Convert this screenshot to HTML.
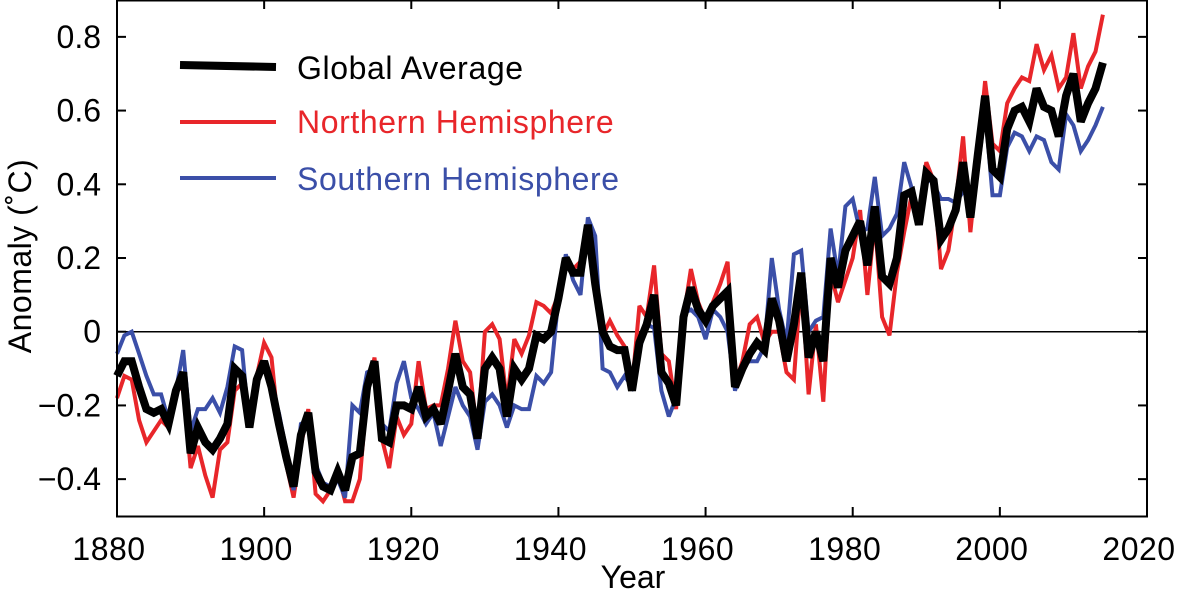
<!DOCTYPE html>
<html><head><meta charset="utf-8"><style>
body{margin:0;background:#fff}
svg text{font-family:"Liberation Sans",Arial,sans-serif}
</style></head><body>
<svg id="chart" width="1184" height="603" xmlns="http://www.w3.org/2000/svg"></svg>
<script>
const startYear = 1880;
const globalAvg = [-0.12,-0.08,-0.08,-0.15,-0.21,-0.22,-0.21,-0.25,-0.16,-0.11,-0.33,-0.26,-0.30,-0.32,-0.29,-0.25,-0.10,-0.12,-0.26,-0.13,-0.08,-0.15,-0.25,-0.34,-0.42,-0.28,-0.22,-0.38,-0.42,-0.43,-0.38,-0.43,-0.34,-0.33,-0.15,-0.08,-0.29,-0.30,-0.20,-0.20,-0.21,-0.15,-0.23,-0.21,-0.25,-0.16,-0.06,-0.15,-0.17,-0.29,-0.10,-0.07,-0.10,-0.23,-0.10,-0.13,-0.10,-0.01,-0.02,0.00,0.09,0.20,0.16,0.16,0.29,0.13,0.00,-0.04,-0.05,-0.05,-0.16,-0.03,0.02,0.10,-0.11,-0.14,-0.20,0.04,0.12,0.06,0.03,0.07,0.09,0.11,-0.15,-0.10,-0.06,-0.03,-0.05,0.09,0.03,-0.08,0.02,0.16,-0.07,0.00,-0.08,0.20,0.12,0.22,0.26,0.30,0.18,0.34,0.15,0.13,0.20,0.37,0.38,0.29,0.43,0.41,0.25,0.28,0.33,0.46,0.31,0.48,0.64,0.44,0.42,0.55,0.60,0.61,0.57,0.66,0.61,0.60,0.53,0.64,0.70,0.57,0.62,0.66,0.73];
const northHem = [-0.18,-0.12,-0.13,-0.24,-0.30,-0.27,-0.24,-0.26,-0.16,-0.15,-0.37,-0.31,-0.39,-0.45,-0.32,-0.30,-0.16,-0.14,-0.26,-0.12,-0.03,-0.07,-0.27,-0.36,-0.45,-0.31,-0.21,-0.44,-0.46,-0.43,-0.38,-0.46,-0.46,-0.40,-0.17,-0.07,-0.29,-0.37,-0.23,-0.28,-0.25,-0.08,-0.21,-0.20,-0.20,-0.10,0.03,-0.08,-0.11,-0.28,0.00,0.02,-0.02,-0.19,-0.02,-0.06,-0.01,0.08,0.07,0.05,0.10,0.18,0.17,0.19,0.28,0.10,-0.01,0.03,-0.01,-0.04,-0.15,0.07,0.04,0.18,-0.06,-0.08,-0.21,0.04,0.17,0.08,0.03,0.08,0.13,0.19,-0.14,-0.08,0.02,0.04,-0.03,0.00,0.00,-0.11,-0.13,0.15,-0.17,0.02,-0.19,0.16,0.08,0.14,0.20,0.33,0.10,0.30,0.04,-0.01,0.16,0.27,0.37,0.32,0.46,0.41,0.17,0.22,0.35,0.53,0.27,0.47,0.68,0.51,0.49,0.62,0.66,0.69,0.68,0.78,0.71,0.75,0.66,0.69,0.81,0.66,0.72,0.76,0.86];
const southHem = [-0.06,-0.01,0.00,-0.06,-0.12,-0.17,-0.17,-0.24,-0.16,-0.05,-0.27,-0.21,-0.21,-0.18,-0.22,-0.15,-0.04,-0.05,-0.26,-0.12,-0.10,-0.15,-0.22,-0.32,-0.43,-0.25,-0.24,-0.36,-0.41,-0.42,-0.40,-0.45,-0.20,-0.22,-0.11,-0.10,-0.25,-0.27,-0.14,-0.08,-0.18,-0.21,-0.25,-0.22,-0.31,-0.23,-0.15,-0.20,-0.23,-0.32,-0.19,-0.17,-0.20,-0.26,-0.20,-0.21,-0.21,-0.12,-0.14,-0.11,0.09,0.21,0.14,0.10,0.31,0.26,-0.10,-0.11,-0.15,-0.12,-0.15,-0.05,0.02,0.01,-0.16,-0.23,-0.18,0.05,0.06,0.04,-0.02,0.06,0.04,0.00,-0.16,-0.09,-0.08,-0.08,-0.04,0.20,0.06,-0.03,0.21,0.22,0.00,0.03,0.04,0.28,0.15,0.34,0.36,0.27,0.28,0.42,0.26,0.28,0.32,0.46,0.39,0.30,0.42,0.40,0.36,0.36,0.35,0.38,0.36,0.44,0.60,0.37,0.37,0.50,0.54,0.53,0.49,0.53,0.52,0.46,0.44,0.59,0.56,0.49,0.52,0.56,0.61];
const xTicks = [1880,1900,1920,1940,1960,1980,2000,2020];
const yTicks = [-0.4,-0.2,0,0.2,0.4,0.6,0.8];
const yTickLabels = ["\u22120.4","\u22120.2","0","0.2","0.4","0.6","0.8"];

const L=117,R=1147,T=0,B=516;
const x = yr => L + (yr-1880)/(2020-1880)*(R-L);
const y = v => B - (v-(-0.5))/(0.9-(-0.5))*(B-T);
const svg = document.getElementById('chart');
const NS='http://www.w3.org/2000/svg';
function mk(tag, attrs, parent){const e=document.createElementNS(NS,tag);for(const k in attrs)e.setAttribute(k,attrs[k]);(parent||svg).appendChild(e);return e;}

const z = mk('line',{x1:L,x2:R,y1:y(0),y2:y(0),stroke:'#000','stroke-width':1.5});



function series(arr,color,w,name){
  const pts=arr.map((v,i)=>x(startYear+i).toFixed(1)+','+y(v).toFixed(1)).join(' ');
  const p=mk('polyline',{points:pts,fill:'none',stroke:color,'stroke-width':w,'stroke-linejoin':'miter','stroke-miterlimit':3});
  
  
}
series(northHem,'#e8262a',4,'northern-hemisphere-line');
series(southHem,'#3b4fa8',4,'southern-hemisphere-line');
series(globalAvg,'#000',8,'global-average-line');

const box=mk('rect',{x:L,y:T+0.5,width:R-L,height:B-T,fill:'none',stroke:'#000','stroke-width':2});



xTicks.forEach(t=>{
  const X=x(t);
  mk('line',{x1:X,x2:X,y1:B,y2:B-9,stroke:'#000','stroke-width':2});
  mk('line',{x1:X,x2:X,y1:T,y2:T+9,stroke:'#000','stroke-width':2});
  const tx=mk('text',{x:X-8,y:560,'font-size':32,'text-anchor':'middle','letter-spacing':'0.5'});
  tx.textContent=t;
  
  
});
yTicks.forEach((t,i)=>{
  const Y=y(t);
  mk('line',{x1:L,x2:L+9,y1:Y,y2:Y,stroke:'#000','stroke-width':2});
  mk('line',{x1:R,x2:R-9,y1:Y,y2:Y,stroke:'#000','stroke-width':2});
  const tx=mk('text',{x:101,y:Y+11,'font-size':32,'text-anchor':'end'});
  tx.textContent=yTickLabels[i];
  
  
});
</script>
<svg style="position:absolute;left:0;top:0" width="1184" height="603" xmlns="http://www.w3.org/2000/svg">
  <text x="633" y="588" font-size="32" text-anchor="middle" font-family="Liberation Sans, sans-serif">Year</text>
  <text transform="translate(31,256) rotate(-90)" font-size="32" text-anchor="middle" font-family="Liberation Sans, sans-serif" letter-spacing="0.5">Anomaly (˚C)</text>
  <g font-family="Liberation Sans, sans-serif" font-size="32" letter-spacing="0.6">
    <line x1="180" y1="65" x2="276" y2="67" stroke="#000" stroke-width="8"/>
    <text x="297" y="79">Global Average</text>
    <line x1="180" y1="122" x2="276" y2="122" stroke="#e8262a" stroke-width="4"/>
    <text x="297" y="133" fill="#e8262a">Northern Hemisphere</text>
    <line x1="180" y1="178" x2="276" y2="178" stroke="#3b4fa8" stroke-width="4"/>
    <text x="297" y="190" fill="#3b4fa8">Southern Hemisphere</text>
  </g>
</svg>
</body></html>
